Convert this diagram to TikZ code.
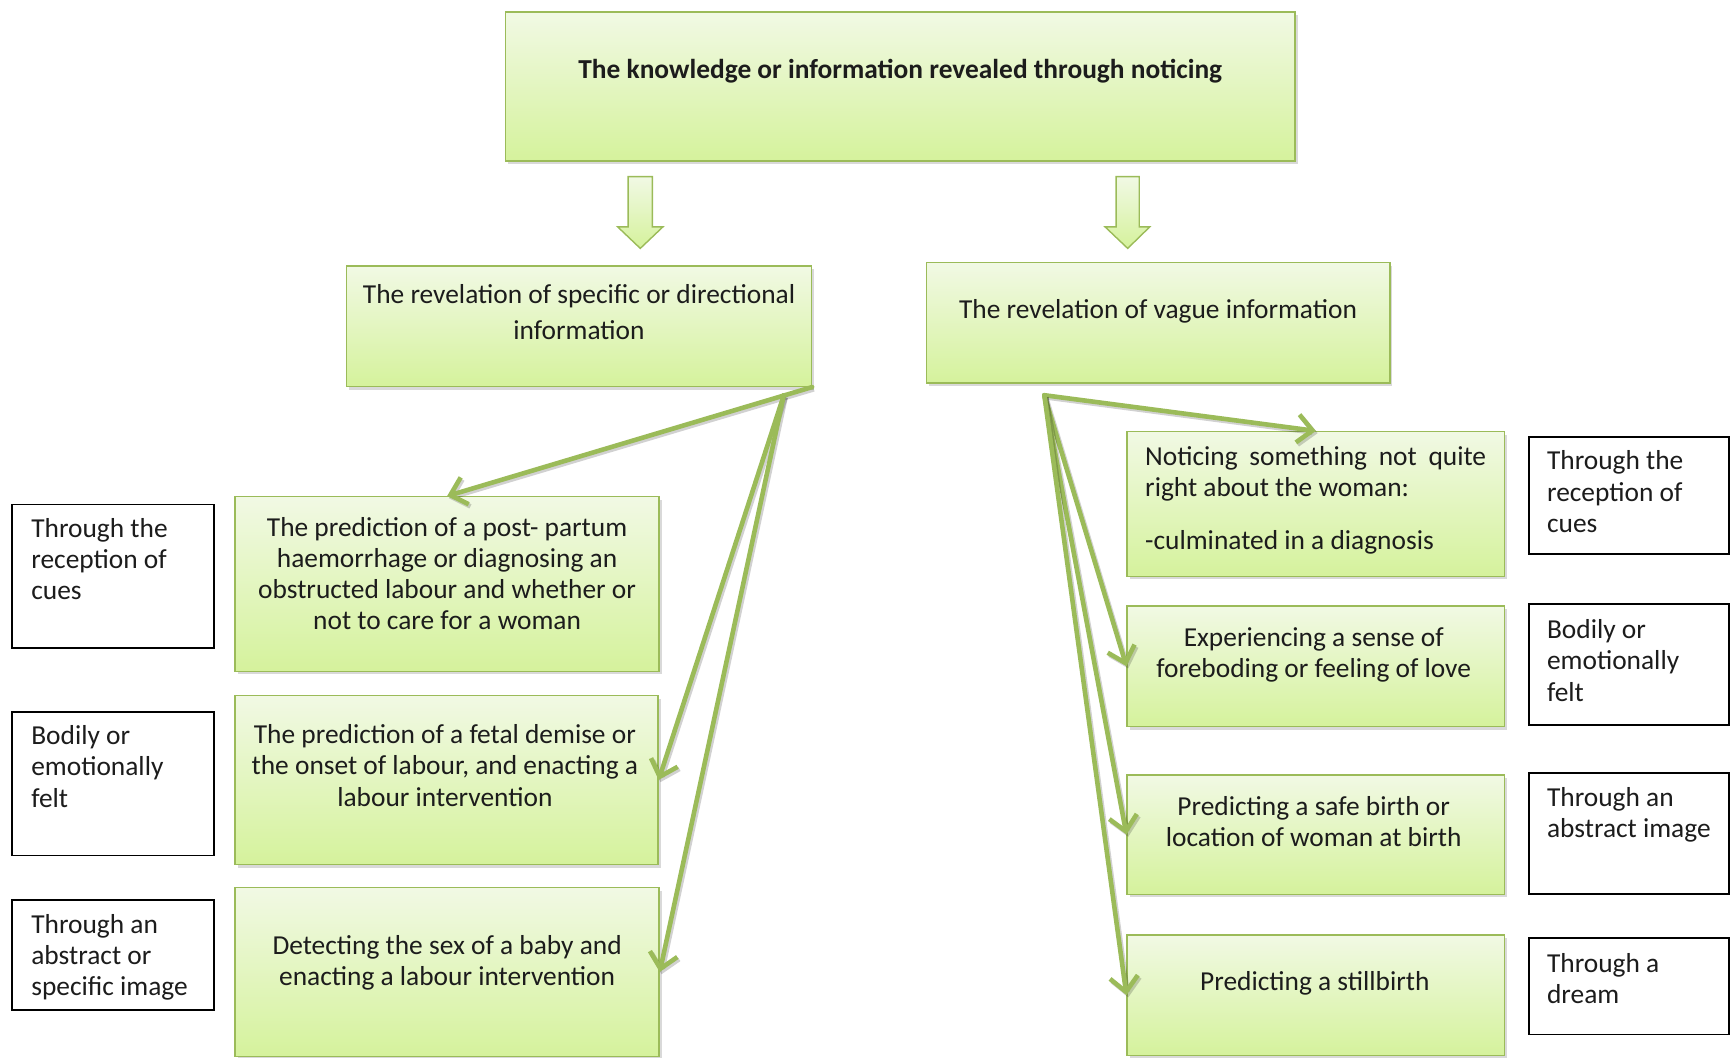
\documentclass[tikz,border=0pt]{standalone}
\usepackage{fontspec}
\setmainfont{Carlito}
\usetikzlibrary{arrows.meta,fit,shadows}

\definecolor{gtop}{HTML}{F1F9E4}
\definecolor{gbot}{HTML}{D5F29C}
\definecolor{gedge}{HTML}{9BBB59}
\definecolor{olive}{HTML}{9BBB59}
\definecolor{ink}{HTML}{1C1C1C}

\newcommand\bodysize{\fontsize{13.7}{15.6}\selectfont}
\newcommand\widesize{\fontsize{13.7}{18.2}\selectfont}

\begin{document}
\begin{tikzpicture}[x=0.552pt,y=-0.552pt,
  gbox/.style={draw=gedge, line width=0.7pt, top color=gtop, bottom color=gbot,
    inner sep=0pt, drop shadow={shadow xshift=1.3pt, shadow yshift=-1.6pt, opacity=0.3}},
  kbox/.style={draw=black, line width=0.9pt, fill=white, inner sep=0pt},
  txt/.style={inner sep=0pt, text=ink, font=\bodysize, anchor=north},
  ctxt/.style={txt, align=center},
  ltxt/.style={txt, align=left, anchor=north west},
  conn/.style={draw=olive, line width=2.3pt, line cap=round, line join=round,
    -{Straight Barb[length=7.5pt,width=14pt]},
    preaction={draw=black, opacity=0.18, line width=2.3pt,
      transform canvas={shift={(0.9pt,-1.1pt)}}}},
  blockarrow/.style={draw=gedge, line width=0.7pt, top color=gtop, bottom color=gbot}
]
\useasboundingbox (0,0) rectangle (1568,958);

% root
\node[gbox, fit={(458,11) (1173,146)}] (root) {};
\node[txt, font=\bodysize\bfseries] (troot) at (815.5,53)
  {The knowledge or information revealed through noticing};

% block arrows below the root
\path[blockarrow] (569,160) -- (591,160) -- (591,205.5) -- (600.5,205.5) -- (580,225)
  -- (559.5,205.5) -- (569,205.5) -- cycle;
\path[blockarrow] (1011,160) -- (1032,160) -- (1032,205.5) -- (1041.5,205.5) -- (1021.5,225)
  -- (1001,205.5) -- (1011,205.5) -- cycle;

% second level
\node[gbox, fit={(314,241) (735,350)}] (spec) {};
\node[ctxt, font=\widesize] (tspec) at (524.5,257)
  {The revelation of specific or directional\\information};
\node[gbox, fit={(839,238) (1259,347)}] (vague) {};
\node[ctxt] (tvague) at (1049,271) {The revelation of vague information};

% left column
\node[gbox, fit={(213,450) (597,608)}] (g1) {};
\node[ctxt] (tg1) at (405,468) {The prediction of a post- partum\\haemorrhage or diagnosing an\\obstructed labour and whether or\\not to care for a woman};
\node[gbox, fit={(213,630) (596,783)}] (g2) {};
\node[ctxt] (tg2) at (403,656) {The prediction of a fetal demise or\\the onset of labour, and enacting a\\labour intervention};
\node[gbox, fit={(213,804) (597,957)}] (g3) {};
\node[ctxt] (tg3) at (405,847) {Detecting the sex of a baby and\\enacting a labour intervention};

\node[kbox, fit={(11,457) (194,587)}] (b1) {};
\node[ltxt] (tb1) at (28,469) {Through the\\reception of\\cues};
\node[kbox, fit={(11,645) (194,775)}] (b2) {};
\node[ltxt] (tb2) at (28,657) {Bodily or\\emotionally\\felt};
\node[kbox, fit={(11,815) (194,915)}] (b3) {};
\node[ltxt] (tb3) at (28,828) {Through an\\abstract or\\specific image};

% right column
\node[gbox, fit={(1021,391) (1363,522)}] (r1) {};
\node[ltxt] (tr1) at (1037,404) {\makebox[170.5pt][s]{Noticing something not quite}\\right about the woman:\\[11pt]-culminated in a diagnosis};
\node[gbox, fit={(1021,549) (1363,658)}] (r2) {};
\node[ctxt] (tr2) at (1190,568) {Experiencing a sense of\\foreboding or feeling of love};
\node[gbox, fit={(1021,702) (1363,810)}] (r3) {};
\node[ctxt] (tr3) at (1190,721) {Predicting a safe birth or\\location of woman at birth};
\node[gbox, fit={(1021,847) (1363,956)}] (r4) {};
\node[ctxt] (tr4) at (1191,880) {Predicting a stillbirth};

\node[kbox, fit={(1385,396) (1566,502)}] (k1) {};
\node[ltxt] (tk1) at (1401,408) {Through the\\reception of\\cues};
\node[kbox, fit={(1385,547) (1566,657)}] (k2) {};
\node[ltxt] (tk2) at (1401,561) {Bodily or\\emotionally\\felt};
\node[kbox, fit={(1385,700) (1566,810)}] (k3) {};
\node[ltxt] (tk3) at (1401,713) {Through an\\abstract image};
\node[kbox, fit={(1385,850) (1566,937)}] (k4) {};
\node[ltxt] (tk4) at (1401,863) {Through a\\dream};

% connectors
\coordinate (sfork) at (710,358);
\coordinate (vfork) at (946,358);
\draw[conn] (spec.south east) -- (g1.north);
\draw[conn] (sfork) -- (g2.east);
\draw[conn] (sfork) -- (g3.east);
\draw[conn] (vfork) -- (r1.north);
\draw[conn] (vfork) -- (r2.west);
\draw[conn] (vfork) -- (r3.west);
\draw[conn] (vfork) -- (r4.west);
\end{tikzpicture}
\end{document}
